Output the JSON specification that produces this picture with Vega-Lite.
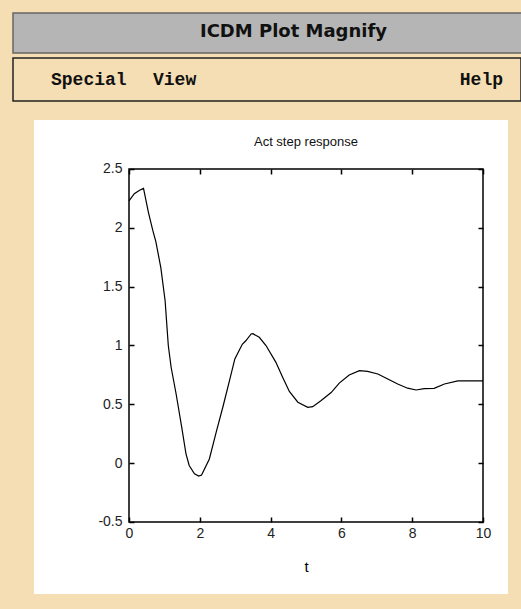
{
  "$schema": "https://vega.github.io/schema/vega-lite/v6.json",
  "background": "#f5deb3",
  "padding": {"left": 12, "top": 12, "right": 0, "bottom": 19},
  "config": {"view": {"stroke": null}, "font": "Liberation Sans"},
  "spacing": 18,
  "vconcat": [
    {
      "spacing": 3,
      "vconcat": [
        {
          "width": 509,
          "height": 40,
          "view": {"fill": "#b5b5b5", "stroke": "#666", "strokeWidth": 1.5},
          "data": {"values": [{"label": "ICDM Plot Magnify"}]},
          "mark": {"type": "text", "font": "DejaVu Sans", "fontWeight": "bold", "fontSize": 18, "color": "#111", "dx": 26, "dy": -1, "baseline": "middle"},
          "encoding": {"text": {"field": "label", "type": "nominal"}}
        },
        {
          "width": 508,
          "height": 43,
          "view": {"fill": "#f5deb3", "stroke": "#222", "strokeWidth": 1.5},
          "data": {"values": [{"item": "Special", "side": 0}, {"item": "View", "side": 0}, {"item": "Help", "side": 1}]},
          "layer": [
            {
              "transform": [{"filter": "datum.item === 'Special'"}],
              "mark": {"type": "text", "font": "Liberation Mono", "fontWeight": "bold", "fontSize": 18, "align": "left", "baseline": "middle", "dx": 38, "color": "#111"},
              "encoding": {"x": {"field": "side", "type": "quantitative", "scale": {"domain": [0, 1]}, "axis": null}, "text": {"field": "item"}}
            },
            {
              "transform": [{"filter": "datum.item === 'View'"}],
              "mark": {"type": "text", "font": "Liberation Mono", "fontWeight": "bold", "fontSize": 18, "align": "left", "baseline": "middle", "dx": 140, "color": "#111"},
              "encoding": {"x": {"field": "side", "type": "quantitative", "scale": {"domain": [0, 1]}, "axis": null}, "text": {"field": "item"}}
            },
            {
              "transform": [{"filter": "datum.item === 'Help'"}],
              "mark": {"type": "text", "font": "Liberation Mono", "fontWeight": "bold", "fontSize": 18, "align": "right", "baseline": "middle", "dx": -18, "color": "#111"},
              "encoding": {"x": {"field": "side", "type": "quantitative", "scale": {"domain": [0, 1]}, "axis": null}, "text": {"field": "item"}}
            }
          ]
        }
      ]
    },
    {
      "spacing": 20,
      "hconcat": [
        {
          "width": 1,
          "height": 10,
          "data": {"values": []},
          "mark": "point",
          "view": {"stroke": null}
        },
        {
          "width": 474,
          "height": 474,
          "view": {"fill": "white", "stroke": null},
          "resolve": {"axis": {"x": "independent", "y": "independent"}},
          "layer": [
            {
              "data": {"values": [
                {"t": 0, "v": 2.23}, {"t": 0.15, "v": 2.29}, {"t": 0.3, "v": 2.32}, {"t": 0.41, "v": 2.335},
                {"t": 0.55, "v": 2.13}, {"t": 0.67, "v": 1.98}, {"t": 0.76, "v": 1.88}, {"t": 0.9, "v": 1.66},
                {"t": 1.02, "v": 1.38}, {"t": 1.11, "v": 1.0}, {"t": 1.19, "v": 0.815}, {"t": 1.33, "v": 0.59},
                {"t": 1.49, "v": 0.305}, {"t": 1.61, "v": 0.078}, {"t": 1.7, "v": -0.02}, {"t": 1.85, "v": -0.09},
                {"t": 1.97, "v": -0.11}, {"t": 2.05, "v": -0.1}, {"t": 2.27, "v": 0.036}, {"t": 2.46, "v": 0.26},
                {"t": 2.65, "v": 0.475}, {"t": 2.83, "v": 0.69}, {"t": 2.99, "v": 0.886}, {"t": 3.2, "v": 1.01},
                {"t": 3.3, "v": 1.04}, {"t": 3.45, "v": 1.098}, {"t": 3.5, "v": 1.1}, {"t": 3.68, "v": 1.07},
                {"t": 3.87, "v": 1.0}, {"t": 4.15, "v": 0.857}, {"t": 4.34, "v": 0.73}, {"t": 4.53, "v": 0.61},
                {"t": 4.77, "v": 0.518}, {"t": 5.05, "v": 0.475}, {"t": 5.19, "v": 0.48}, {"t": 5.42, "v": 0.53},
                {"t": 5.71, "v": 0.6}, {"t": 5.94, "v": 0.68}, {"t": 6.22, "v": 0.75}, {"t": 6.51, "v": 0.786},
                {"t": 6.74, "v": 0.78}, {"t": 7.03, "v": 0.758}, {"t": 7.31, "v": 0.716}, {"t": 7.59, "v": 0.673},
                {"t": 7.87, "v": 0.637}, {"t": 8.11, "v": 0.622}, {"t": 8.34, "v": 0.633}, {"t": 8.62, "v": 0.636},
                {"t": 8.91, "v": 0.673}, {"t": 9.29, "v": 0.7}, {"t": 10, "v": 0.7}
              ]},
              "mark": {"type": "line", "color": "black", "strokeWidth": 1.2},
              "encoding": {
                "x": {"field": "t", "type": "quantitative",
                  "scale": {"domain": [-2.6836, 10.7062], "nice": false, "zero": false},
                  "axis": {"orient": "bottom", "offset": -72, "values": [0, 2, 4, 6, 8, 10], "domain": false, "grid": false,
                    "tickSize": -5, "tickColor": "black", "tickWidth": 1.5, "labelPadding": 9, "labelFontSize": 14,
                    "labelColor": "#222", "labelFont": "Liberation Sans", "labelFlush": false, "labelOverlap": false,
                    "title": "t", "titleX": 272, "titleY": 49, "titleBaseline": "alphabetic", "titleFontWeight": "normal",
                    "titleFontSize": 15, "titleFont": "Liberation Sans", "titleColor": "black"}},
                "y": {"field": "v", "type": "quantitative",
                  "scale": {"domain": [-1.1119, 2.9164], "nice": false, "zero": false},
                  "axis": {"orient": "left", "offset": -95, "values": [-0.5, 0, 0.5, 1, 1.5, 2, 2.5], "domain": false, "grid": false,
                    "tickSize": -5, "tickColor": "black", "tickWidth": 1.5, "labelPadding": 12, "labelFontSize": 14,
                    "labelColor": "#222", "labelFont": "Liberation Sans", "labelFlush": false, "labelOverlap": false,
                    "labelExpr": "datum.value < 0 ? '-' + format(-datum.value, '~g') : format(datum.value, '~g')",
                    "title": null}}
              }
            },
            {
              "data": {"values": [{}]},
              "mark": {"type": "rect", "fill": null, "stroke": "black", "strokeWidth": 1.5},
              "encoding": {
                "x": {"datum": 0, "type": "quantitative",
                  "axis": {"orient": "top", "offset": -49, "values": [0, 2, 4, 6, 8, 10], "domain": false, "grid": false,
                    "tickSize": -5, "tickColor": "black", "tickWidth": 1.5, "labels": false, "title": null}},
                "x2": {"datum": 10},
                "y": {"datum": -0.5, "type": "quantitative",
                  "axis": {"orient": "right", "offset": -25, "values": [-0.5, 0, 0.5, 1, 1.5, 2, 2.5], "domain": false, "grid": false,
                    "tickSize": -5, "tickColor": "black", "tickWidth": 1.5, "labels": false, "title": null}},
                "y2": {"datum": 2.5}
              }
            },
            {
              "data": {"values": [{}]},
              "mark": {"type": "text", "text": "Act step response", "fontSize": 13, "font": "Liberation Sans", "baseline": "alphabetic", "dy": -23, "color": "#111"},
              "encoding": {
                "x": {"datum": 5, "type": "quantitative", "axis": null},
                "y": {"datum": 2.5, "type": "quantitative", "axis": null}
              }
            }
          ]
        }
      ]
    }
  ]
}
